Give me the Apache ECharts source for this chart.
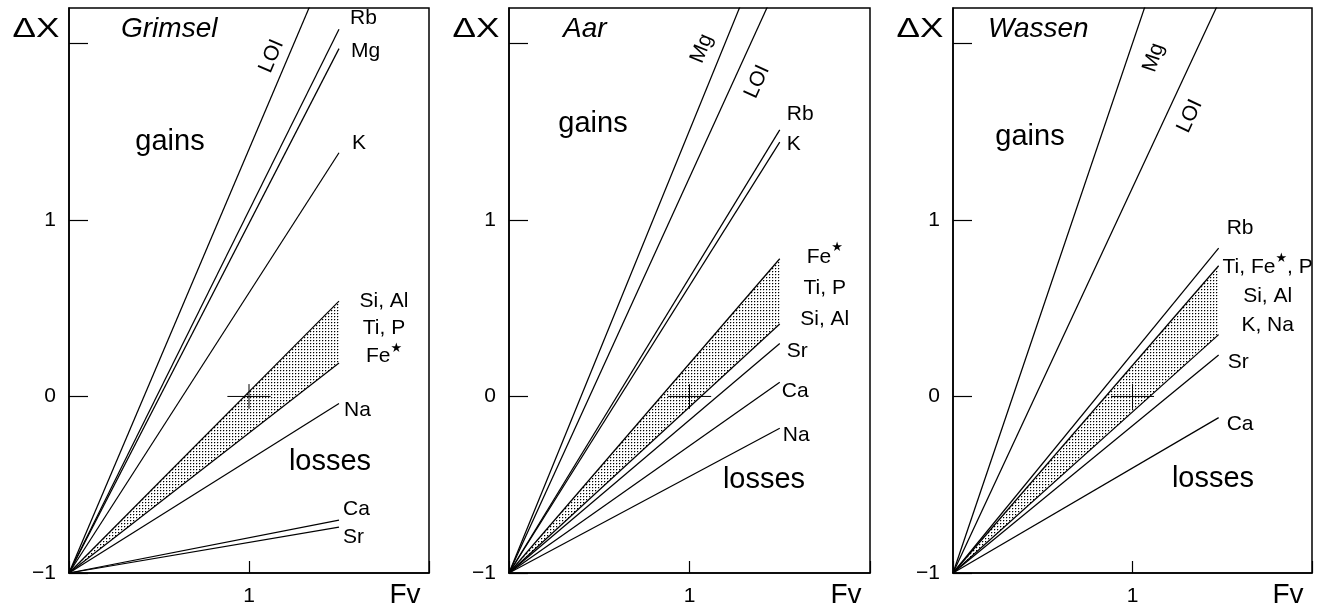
<!DOCTYPE html>
<html><head><meta charset="utf-8">
<script src="https://cdn.jsdelivr.net/npm/echarts@6/dist/echarts.min.js"></script>
<style>html,body{margin:0;padding:0;background:#fff}#c{width:1322px;height:612px}</style>
</head><body><div id="c"></div>
<script>
// ---------------- data ----------------
const PANELS = ['Grimsel', 'Aar', 'Wassen'];
// every line starts at (Fv = 0, ΔX = -1) and ends at Fv = FV_END
const FV_END = [1.5, 1.5, 1.48];
const GRIMSEL_LINES = ['LOI', 'Rb', 'Mg', 'K', 'Si,Al,Ti,P,Fe* (upper)', 'Si,Al,Ti,P,Fe* (lower)', 'Na', 'Ca', 'Sr'];
const GRIMSEL_DX    = [2.60, 2.08, 1.97, 1.38, 0.54, 0.19, -0.04, -0.70, -0.74];
const AAR_LINES     = ['Mg', 'LOI', 'Rb', 'K', 'Fe*,Ti,P,Si,Al (upper)', 'Fe*,Ti,P,Si,Al (lower)', 'Sr', 'Ca', 'Na'];
const AAR_DX        = [2.76, 2.36, 1.51, 1.44, 0.78, 0.41, 0.30, 0.08, -0.18];
const WASSEN_LINES  = ['Mg', 'LOI', 'Rb', 'Ti,Fe*,P,Si,Al,K,Na (upper)', 'Ti,Fe*,P,Si,Al,K,Na (lower)', 'Sr', 'Ca'];
const WASSEN_DX     = [3.44, 2.23, 0.84, 0.74, 0.35, 0.235, -0.12];
const BAND_EDGES    = [[4, 5], [4, 5], [3, 4]];   // indices of the shaded band's edges
const ORIGIN        = [0, -1];
const REF_POINT     = [1, 0];                      // the "+" mark
const X_TICK_LABELS = [1];
const Y_TICK_LABELS = [-1, 0, 1];

const LINES = [GRIMSEL_LINES, AAR_LINES, WASSEN_LINES];
const VALUES = [GRIMSEL_DX, AAR_DX, WASSEN_DX];

// ---------------- layout ----------------
const FONT = '"Liberation Sans", Arial, sans-serif';
const GRIDS = [
  {left: 69, top: 8, width: 360, height: 565},
  {left: 509, top: 8, width: 361, height: 565},
  {left: 953, top: 8, width: 359, height: 565}
];
// [line index, fraction along line, dx, dy, rotate(deg), text, align, vAlign, lineHeight]
const STAR = '{n|Fe}{s|★}';
const LABELS = [
  [
    [0, 0.813, -17, 0, 67, 'LOI', 'center', 'middle'],
    [1, 1, 11, -11, 0, 'Rb'],
    [2, 1, 12, 3, 0, 'Mg'],
    [3, 1, 13, -10, 0, 'K'],
    [4, 1, 45, -14, 0, 'Si, Al\nTi, P\n' + STAR, 'center', 'top', 27.5],
    [6, 1, 5, 7, 0, 'Na'],
    [7, 1, 4, -11, 0, 'Ca'],
    [8, 1, 4, 10, 0, 'Sr']
  ],
  [
    [0, 0.790, -21, 0, 68, 'Mg', 'center', 'middle'],
    [1, 0.828, 24, 0, 65.5, 'LOI', 'center', 'middle'],
    [2, 1, 7, -16, 0, 'Rb'],
    [3, 1, 7, 2, 0, 'K'],
    [4, 1, 45, -17.5, 0, STAR + '\nTi, P\nSi, Al', 'center', 'top', 31],
    [6, 1, 7, 8, 0, 'Sr'],
    [7, 1, 2, 9, 0, 'Ca'],
    [8, 1, 3, 7, 0, 'Na']
  ],
  [
    [0, 0.6575, 26, 0, 71, 'Mg', 'center', 'middle'],
    [1, 0.801, 24, 0, 65, 'LOI', 'center', 'middle'],
    [2, 1, 8, -20, 0, 'Rb'],
    [3, 1, 49, -13.5, 0, 'Ti, ' + STAR + ', P\nSi, Al\nK, Na', 'center', 'top', 29],
    [5, 1, 9, 7, 0, 'Sr'],
    [6, 1, 8, 7, 0, 'Ca']
  ]
];
const TITLE_POS  = [[121, 29], [563, 29], [988, 29]];
const GAINS_POS  = [[170, 142], [593, 124], [1030, 137]];
const LOSSES_POS = [[330, 462], [764, 480], [1213, 479]];

// ---------------- pattern ----------------
const pc = document.createElement('canvas');
pc.width = 3; pc.height = 3;
const pctx = pc.getContext('2d');
pctx.fillStyle = '#000';
pctx.fillRect(1, 1, 1, 1);
pctx.fillStyle = 'rgba(0,0,0,0.25)';
pctx.fillRect(2, 1, 1, 1);
pctx.fillRect(1, 2, 1, 1);
const DOTS = {image: pc, repeat: 'repeat'};

// ---------------- option ----------------
const grid = [], xAxis = [], yAxis = [], series = [];
PANELS.forEach((name, i) => {
  grid.push(Object.assign({show: true, borderColor: '#000', borderWidth: 1.5, backgroundColor: 'transparent'}, GRIDS[i]));
  xAxis.push({
    type: 'value', gridIndex: i, min: 0, max: 2, interval: 1,
    axisLine: {show: true, onZero: false, lineStyle: {color: '#000', width: 1.5}},
    axisTick: {show: true, inside: true, length: 12, lineStyle: {color: '#000', width: 1.2}},
    axisLabel: {show: true, margin: 13, color: '#000', fontSize: 21, fontFamily: FONT,
      formatter: v => X_TICK_LABELS.indexOf(v) >= 0 ? String(v) : ''},
    splitLine: {show: false}
  });
  yAxis.push({
    type: 'value', gridIndex: i, min: -1, max: 2.2, interval: 1,
    axisLine: {show: true, onZero: false, lineStyle: {color: '#000', width: 1.5}},
    axisTick: {show: true, inside: true, length: 19, lineStyle: {color: '#000', width: 1.2}},
    axisLabel: {show: true, margin: 13, color: '#000', fontSize: 21, fontFamily: FONT,
      showMaxLabel: false,
      formatter: v => Y_TICK_LABELS.indexOf(v) >= 0 ? (v < 0 ? '\u2212' + (-v) : String(v)) : ''},
    splitLine: {show: false}
  });
  // shaded band
  const be = BAND_EDGES[i];
  series.push({
    type: 'custom', xAxisIndex: i, yAxisIndex: i, silent: true, z: 2, clip: true,
    data: [[FV_END[i], VALUES[i][be[0]], VALUES[i][be[1]]]],
    renderItem: (params, api) => {
      const o = api.coord(ORIGIN);
      const a = api.coord([api.value(0), api.value(1)]);
      const b = api.coord([api.value(0), api.value(2)]);
      return {type: 'polygon', shape: {points: [o, a, b]}, style: {fill: DOTS, stroke: null}};
    }
  });
  // element lines
  LINES[i].forEach((ln, k) => {
    series.push({
      type: 'line', name: ln, xAxisIndex: i, yAxisIndex: i, silent: true, z: 3, clip: true,
      symbol: 'none', animation: false,
      lineStyle: {color: '#000', width: 1.25},
      data: [ORIGIN, [FV_END[i], VALUES[i][k]]]
    });
  });
  // reference cross
  series.push({
    type: 'custom', xAxisIndex: i, yAxisIndex: i, silent: true, z: 4,
    data: [REF_POINT],
    renderItem: (params, api) => {
      const x = api.value(0), y = api.value(1);
      const h1 = api.coord([x - 0.12, y]), h2 = api.coord([x + 0.12, y]);
      const v1 = api.coord([x, y - 0.07]), v2 = api.coord([x, y + 0.07]);
      return {type: 'group', children: [
        {type: 'line', shape: {x1: h1[0], y1: h1[1], x2: h2[0], y2: h2[1]}, style: {stroke: '#000', lineWidth: 1}},
        {type: 'line', shape: {x1: v1[0], y1: v1[1], x2: v2[0], y2: v2[1]}, style: {stroke: '#000', lineWidth: 1}}
      ]};
    }
  });
});

const chart = echarts.init(document.getElementById('c'), null, {renderer: 'canvas'});
chart.setOption({animation: false, backgroundColor: '#fff', grid, xAxis, yAxis, series});

// ---------------- texts ----------------
function txt(x, y, text, font, align, valign, extra) {
  return Object.assign({
    type: 'text', x, y, silent: true, z: 10,
    style: {text, font, fill: '#000', align, verticalAlign: valign, textAlign: align, textVerticalAlign: valign}
  }, extra || {});
}
const richStyle = {
  n: {fontSize: 21, fontFamily: FONT, color: '#000'},
  s: {fontSize: 13, fontFamily: '"DejaVu Sans", sans-serif', color: '#000', verticalAlign: 'top'}
};
const graphics = [];
PANELS.forEach((name, i) => {
  const g = GRIDS[i];
  graphics.push(txt(g.left - 33, 30, '\u0394X', '27px ' + FONT, 'center', 'middle', {scaleX: 1.3}));
  graphics.push(txt(TITLE_POS[i][0], TITLE_POS[i][1], name, 'italic 28px ' + FONT, 'left', 'middle'));
  graphics.push(txt(GAINS_POS[i][0], GAINS_POS[i][1], 'gains', '29px ' + FONT, 'center', 'middle'));
  graphics.push(txt(LOSSES_POS[i][0], LOSSES_POS[i][1], 'losses', '29px ' + FONT, 'center', 'middle'));
  graphics.push(txt(g.left + g.width - 24, 595, 'Fv', '28px ' + FONT, 'center', 'middle'));
  LABELS[i].forEach(L => {
    const v = VALUES[i][L[0]], t = L[1];
    const p = chart.convertToPixel({gridIndex: i}, [ORIGIN[0] + t * (FV_END[i] - ORIGIN[0]), ORIGIN[1] + t * (v - ORIGIN[1])]);
    const el = txt(p[0] + L[2], p[1] + L[3], L[5], '21px ' + FONT, L[6] || 'left', L[7] || 'middle',
      {rotation: (L[4] || 0) * Math.PI / 180});
    if (L[8]) el.style.lineHeight = L[8];
    if (L[5].indexOf('{') >= 0) {
      el.style.rich = JSON.parse(JSON.stringify(richStyle));
      if (L[8]) { el.style.rich.n.lineHeight = L[8]; el.style.rich.s.lineHeight = L[8]; }
    }
    graphics.push(el);
  });
});
chart.setOption({graphic: graphics});
</script>
</body></html>
